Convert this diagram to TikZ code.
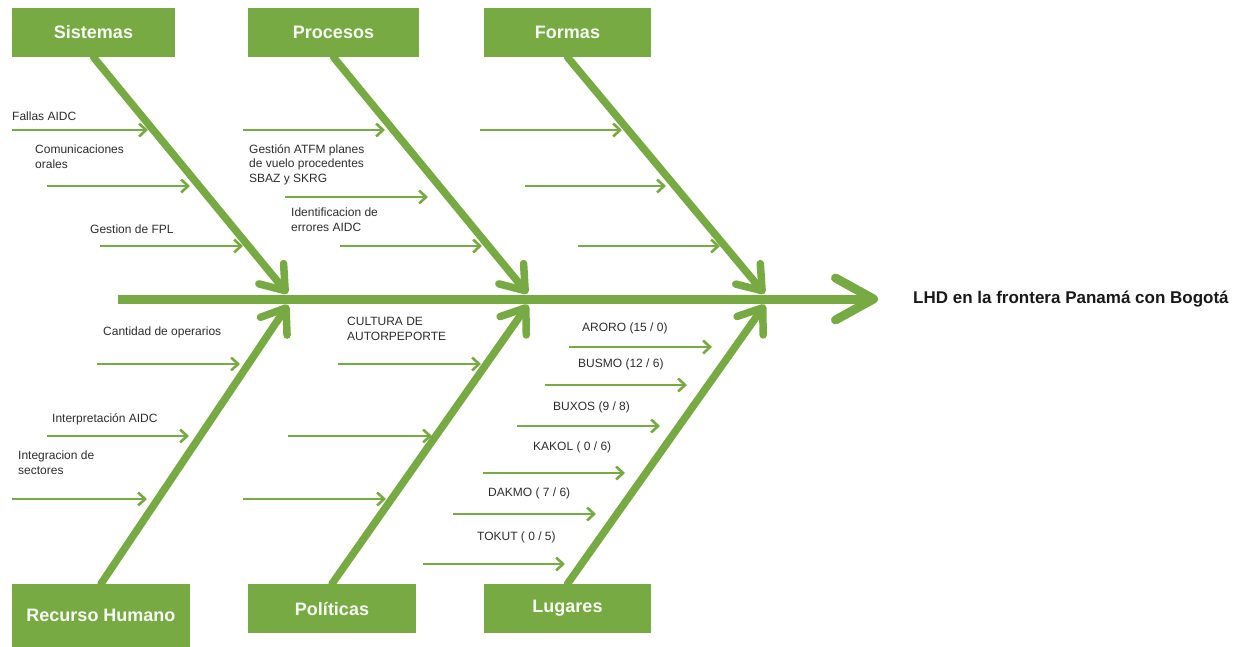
\documentclass[tikz,border=0pt]{standalone}
\usepackage{fontspec}
\setmainfont{Liberation Sans}
\usetikzlibrary{arrows.meta,positioning}

\definecolor{hoja}{RGB}{120,170,68}
\definecolor{texto}{RGB}{45,45,45}

\tikzset{
  causa/.style={fill=hoja, text=white!94!hoja, font=\fontsize{18}{20}\selectfont\bfseries,
    minimum height=49pt, inner sep=0pt},
  espina/.style={draw=hoja, line width=7.5pt, line cap=round, shorten >=7pt,
    -{Straight Barb[length=22pt,width=32pt,round]}},
  ramita/.style={draw=hoja, line width=2.6pt,
    -{Straight Barb[length=7pt,width=13pt]}},
  etiqueta/.style={text=texto, font=\fontsize{12}{14.5}\selectfont, align=left,
    inner sep=0pt, anchor=north west},
}

\begin{document}
\begin{tikzpicture}[x=1pt,y=-1pt]
  \useasboundingbox (0,0) rectangle (1242,647);

  % cajas de causas
  \node[causa, minimum width=163pt] (sis) at (93.5,32.5) {Sistemas};
  \node[causa, minimum width=171pt] (pro) at (333.5,32.5) {Procesos};
  \node[causa, minimum width=167pt] (for) at (567.5,32.5) {Formas};
  \node[causa, minimum width=178pt, minimum height=63pt, text depth=-4pt] (rh) at (101,615.5) {Recurso Humano};
  \node[causa, minimum width=168pt] (pol) at (332,608.5) {Políticas};
  \node[causa, minimum width=167pt] (lug) at (567.5,608.5) {Lugares};

  % efecto
  \node[anchor=west, inner sep=0pt, font=\fontsize{17}{19}\selectfont\bfseries, text=black!90]
    (efecto) at (913,299) {LHD en la frontera Panamá con Bogotá};

  % espina central
  \coordinate (cola) at (118,299);
  \coordinate (j1) at (292,299);
  \coordinate (j2) at (532,299);
  \coordinate (j3) at (769,299);
  \draw[draw=hoja, line width=9pt, shorten >=35pt,
    -{Straight Barb[length=38pt,width=42pt,round]}] (cola) -- (efecto.west);

  % espinas de cada causa
  \draw[espina] (sis.south) -- (j1);
  \draw[espina] (pro.south) -- (j2);
  \draw[espina] (for.south) -- (j3);
  \draw[espina] (rh.north) -- (j1);
  \draw[espina] (pol.north) -- (j2);
  \draw[espina] (lug.north) -- (j3);

  % ramitas
  \foreach \n/\xa/\xb/\y in {s1/12/148/130, s2/47/190/186, s3/100/243/246,
      p1/243/385/130, p2/285/428/197, p3/340/482/246,
      f1/480/622/130, f2/525/666/186, f3/578/720/246,
      r1/97/240/364, r2/47/189/436, r3/12/147/499,
      o1/338/481/364, o2/288/432/436, o3/243/386/499,
      l1/569/712/347, l2/545/687/385, l3/517/660/426,
      l4/483/625/473, l5/453/596/514, l6/423/565/564}{
    \coordinate (\n a) at (\xa,\y);
    \coordinate (\n b) at (\xb,\y);
    \draw[ramita] (\n a) -- (\n b);
  }

  % textos de las ramitas
  \node[etiqueta] (fallas) at (12,112) {Fallas AIDC};
  \node[etiqueta] (comun) at (35,145) {Comunicaciones\\orales};
  \node[etiqueta] (gfpl) at (90,225) {Gestion de FPL};
  \node[etiqueta] (atfm) at (249,144) {Gestión ATFM planes\\de vuelo procedentes\\SBAZ y SKRG};
  \node[etiqueta] (ident) at (291,208) {Identificacion de\\errores AIDC};
  \node[etiqueta] (cant) at (103,327) {Cantidad de operarios};
  \node[etiqueta] (interp) at (52,413) {Interpretación AIDC};
  \node[etiqueta] (integ) at (18,451) {Integracion de\\sectores};
  \node[etiqueta] (cult) at (347,317) {CULTURA DE\\AUTORPEPORTE};
  \node[etiqueta] (aroro) at (582,323) {ARORO (15 / 0)};
  \node[etiqueta] (busmo) at (578,359) {BUSMO (12 / 6)};
  \node[etiqueta] (buxos) at (553,402) {BUXOS (9 / 8)};
  \node[etiqueta] (kakol) at (533,442) {KAKOL ( 0 / 6)};
  \node[etiqueta] (dakmo) at (488,488) {DAKMO ( 7 / 6)};
  \node[etiqueta] (tokut) at (477,532) {TOKUT ( 0 / 5)};
\end{tikzpicture}
\end{document}
